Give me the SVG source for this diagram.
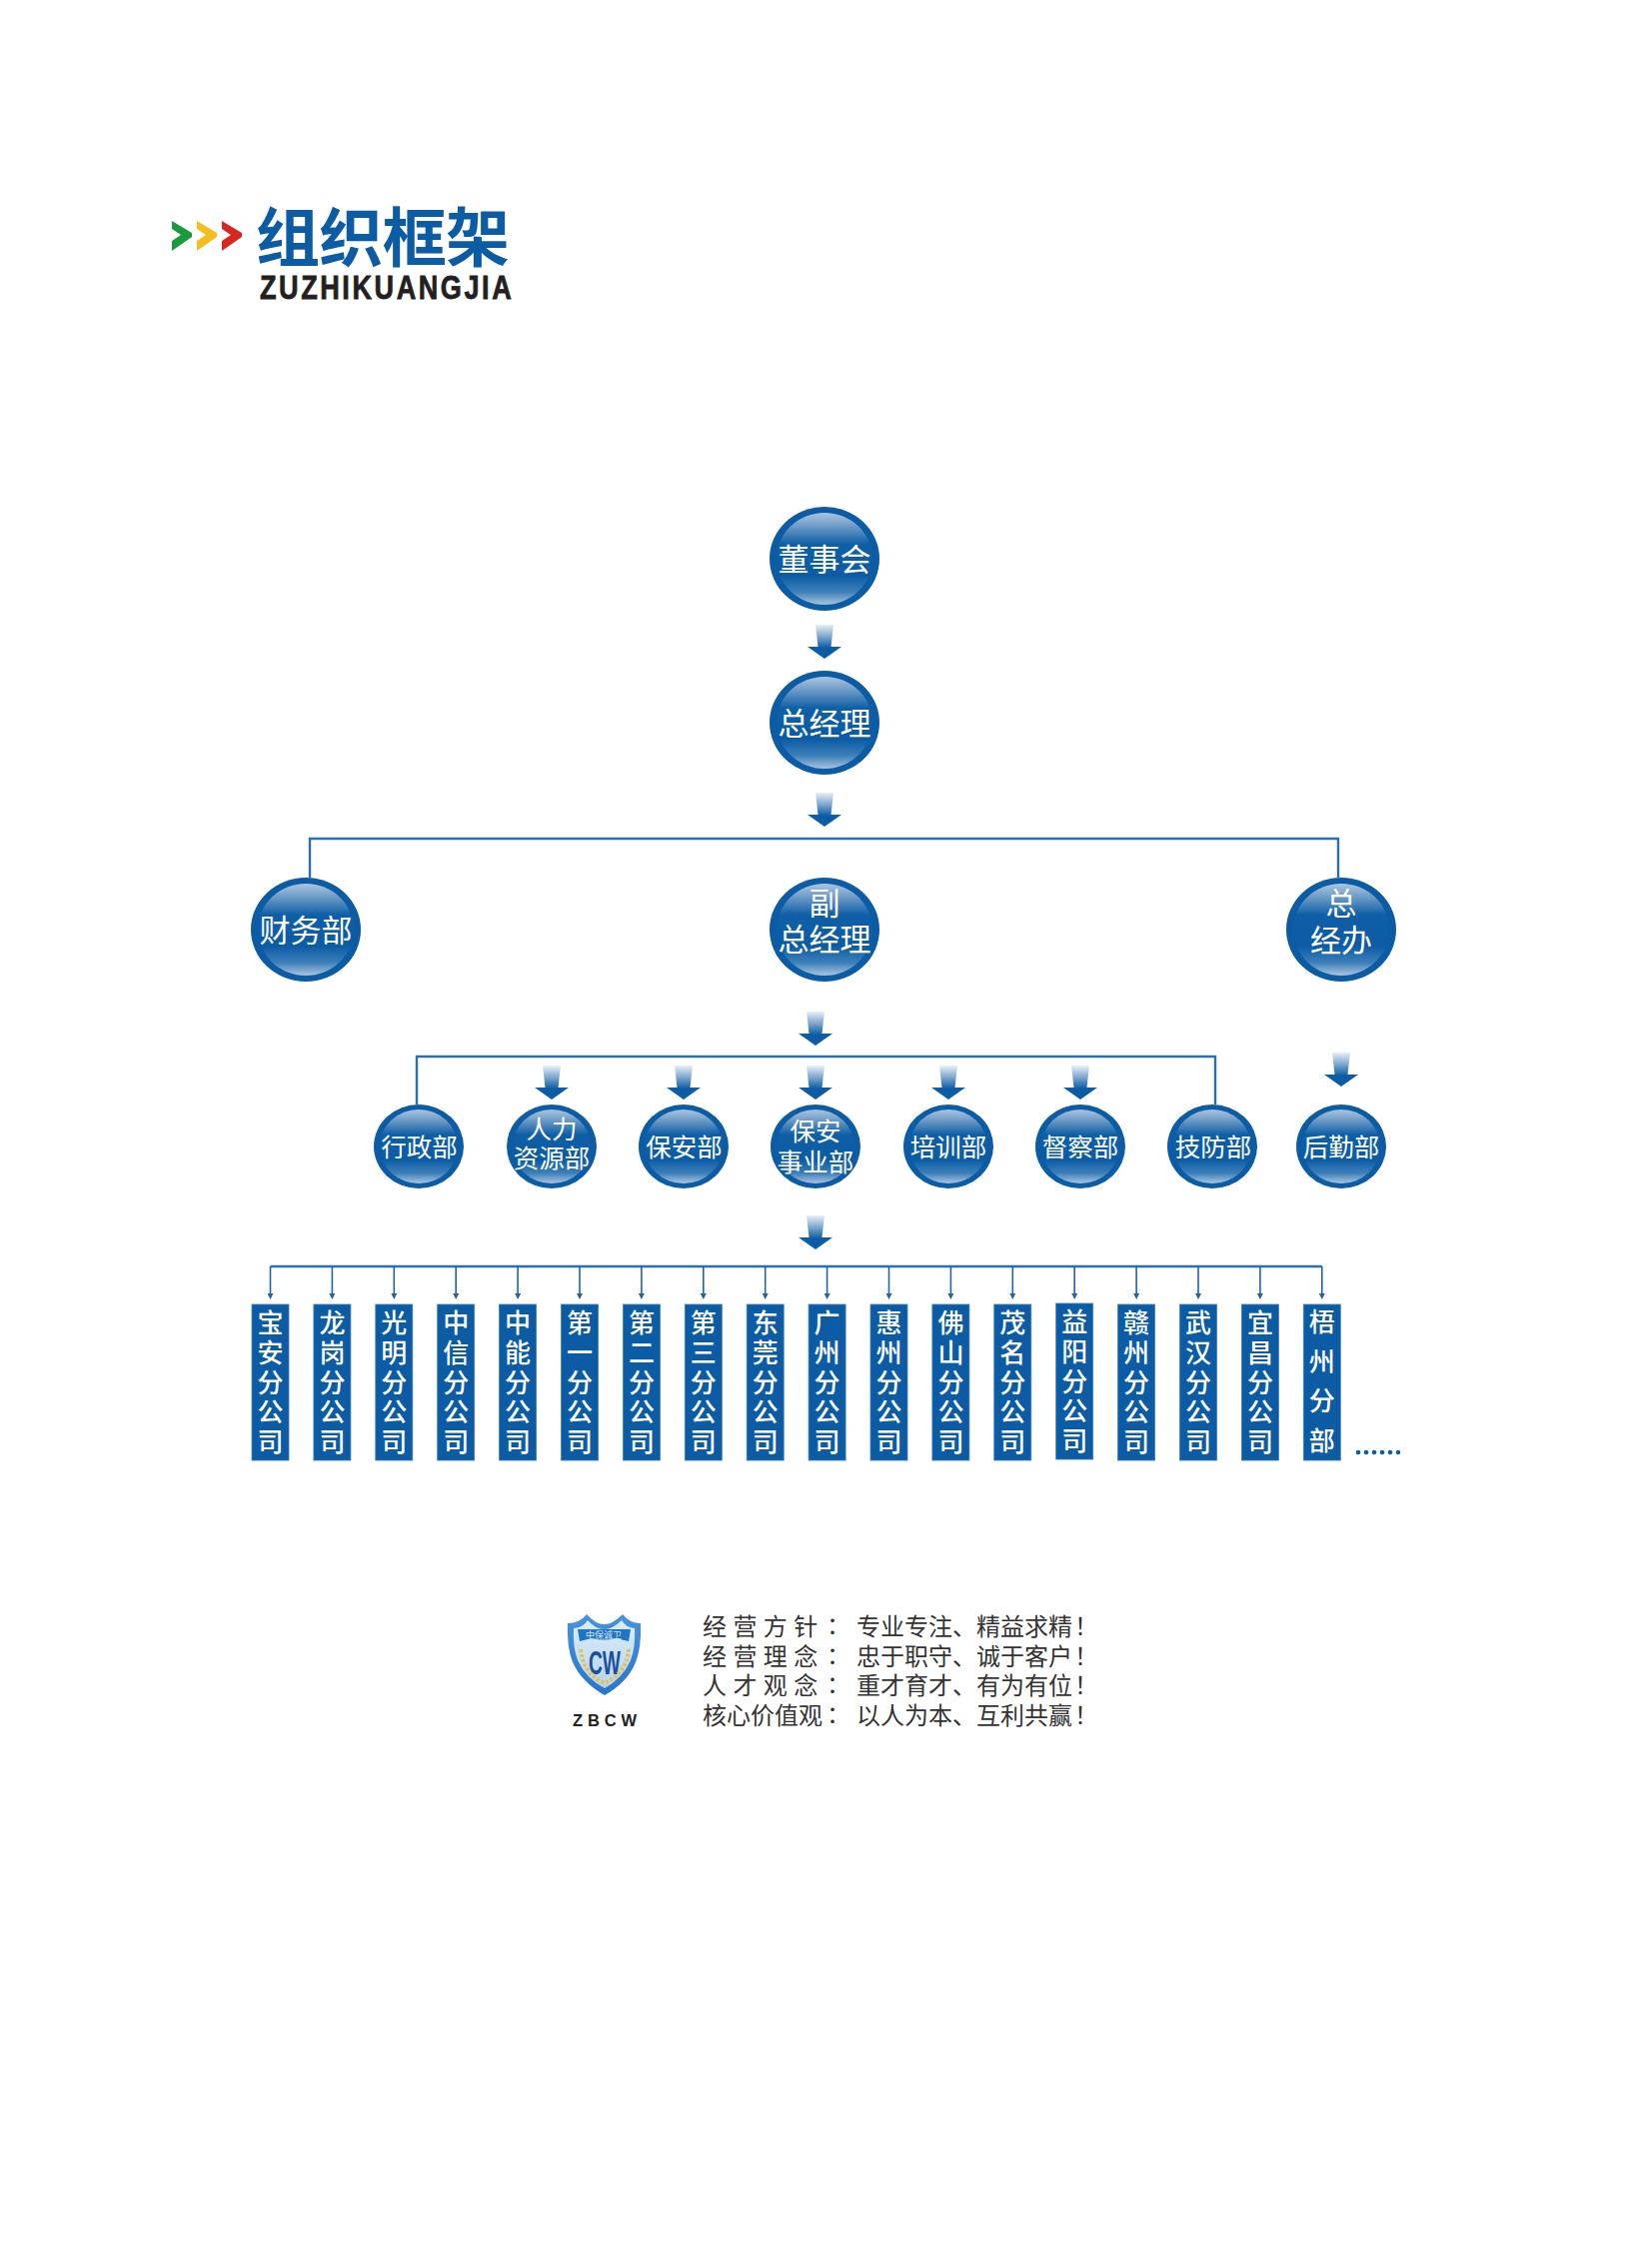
<svg xmlns="http://www.w3.org/2000/svg" width="1653" height="2244" viewBox="0 0 1653 2244">
<style>
.ring{fill:#0b5ca5}
.gloss{fill:url(#gloss)}
.cn{font-family:"Noto Sans CJK SC","Noto Sans",sans-serif;text-anchor:middle;fill:#fff}
.b{font-size:31px}
.s{font-size:25.500px}
.bar{fill:#0b5ca5;stroke:#3f7fb8;stroke-width:.8}
.v{font-size:26px;font-weight:500}
.line{fill:none;stroke:#2a6fae;stroke-width:2.4}
.thin{fill:none;stroke:#1f659f;stroke-width:1.6;marker-end:url(#tip)}
.motto{font-family:"Noto Sans CJK SC","Noto Sans",sans-serif;font-size:24px;fill:#333}
.c{font-family:"Noto Sans CJK JP",sans-serif}
</style>
<defs>
<linearGradient id="gloss" x1="0" y1="0" x2="0" y2="1">
<stop offset="0" stop-color="#a9c5df"/>
<stop offset=".12" stop-color="#7aa3cb"/>
<stop offset=".34" stop-color="#0f5fa7"/>
<stop offset=".68" stop-color="#0b5ca5"/>
<stop offset=".86" stop-color="#3d7fb9"/>
<stop offset="1" stop-color="#a9c5df"/>
</linearGradient>
<linearGradient id="fade" x1="0" y1="0" x2="0" y2="1">
<stop offset="0" stop-color="#e8f0f7"/>
<stop offset=".35" stop-color="#7ea6cd"/>
<stop offset=".68" stop-color="#0b5ca5"/>
<stop offset="1" stop-color="#0b5ca5"/>
</linearGradient>
<linearGradient id="shieldG" x1="0" y1="0" x2="0" y2="1">
<stop offset="0" stop-color="#4a94dc"/>
<stop offset="1" stop-color="#2a74cc"/>
</linearGradient>
<linearGradient id="panelG" x1="0" y1="0" x2="0" y2="1">
<stop offset="0" stop-color="#dbecf7"/>
<stop offset="1" stop-color="#b4d6f0"/>
</linearGradient>
<polygon id="arrow" points="-9,0 9,0 6.5,22 17,22 0,34 -17,22 -6.5,22" fill="url(#fade)"/>
<marker id="tip" markerUnits="userSpaceOnUse" markerWidth="6" markerHeight="6" refX="3" refY="3" orient="auto" viewBox="0 0 6 6">
<polygon points="0,0 6,3 0,6" fill="#1f659f"/>
</marker>
</defs>
<rect width="1653" height="2244" fill="#fff"/>

<g id="title">
<polygon points="172,221 192,233 192,237 172,251 172,241 181,235 172,229" fill="#1a9a3c"/>
<polygon points="197,221 217,233 217,237 197,251 197,241 206,235 197,229" fill="#f5bd1e"/>
<polygon points="222,221 242,233 242,237 222,251 222,241 231,235 222,229" fill="#d8281e"/>
<text x="256" y="261" font-family="'Noto Sans CJK SC',sans-serif" font-size="64" font-weight="700" fill="#0b5ca5" textLength="254">组织框架</text>
<text transform="translate(260 299) scale(.82 1)" x="0" y="0" font-family="'Liberation Sans',sans-serif" font-size="33" font-weight="700" fill="#231f20" stroke="#231f20" stroke-width=".8" textLength="307">ZUZHIKUANGJIA</text>
</g>

<g id="connectors">
<path class="line" d="M310 878V839H1339V878"/>
<path class="line" d="M417 1105V1057H1216V1105"/>
<path class="line" d="M270.500 1267H1322.800"/>
<path class="thin" d="M270.500 1267V1297"/>
<path class="thin" d="M332.400 1267V1297"/>
<path class="thin" d="M394.300 1267V1297"/>
<path class="thin" d="M456.200 1267V1297"/>
<path class="thin" d="M518.100 1267V1297"/>
<path class="thin" d="M580 1267V1297"/>
<path class="thin" d="M641.900 1267V1297"/>
<path class="thin" d="M703.800 1267V1297"/>
<path class="thin" d="M765.700 1267V1297"/>
<path class="thin" d="M827.600 1267V1297"/>
<path class="thin" d="M889.500 1267V1297"/>
<path class="thin" d="M951.400 1267V1297"/>
<path class="thin" d="M1013.300 1267V1297"/>
<path class="thin" d="M1075.200 1267V1297"/>
<path class="thin" d="M1137.100 1267V1297"/>
<path class="thin" d="M1199 1267V1297"/>
<path class="thin" d="M1260.900 1267V1297"/>
<path class="thin" d="M1322.800 1267V1297"/>
<use href="#arrow" x="825" y="625"/>
<use href="#arrow" x="825" y="793"/>
<use href="#arrow" x="816" y="1012"/>
<use href="#arrow" x="552" y="1066"/>
<use href="#arrow" x="684" y="1066"/>
<use href="#arrow" x="816" y="1066"/>
<use href="#arrow" x="949" y="1066"/>
<use href="#arrow" x="1081" y="1066"/>
<use href="#arrow" x="1342" y="1053"/>
<use href="#arrow" x="816" y="1216"/>
</g>

<g id="n-board"><ellipse class="ring" cx="825" cy="559" rx="55" ry="52"/><ellipse class="gloss" cx="825" cy="559" rx="48" ry="46"/><text class="cn b" x="825" y="571">董事会</text></g>
<g id="n-gm"><ellipse class="ring" cx="825" cy="723" rx="55" ry="52"/><ellipse class="gloss" cx="825" cy="723" rx="48" ry="46"/><text class="cn b" x="825" y="735">总经理</text></g>
<g id="n-finance"><ellipse class="ring" cx="306" cy="930" rx="55" ry="52"/><ellipse class="gloss" cx="306" cy="930" rx="48" ry="46"/><text class="cn b" x="306" y="942">财务部</text></g>
<g id="n-vgm"><ellipse class="ring" cx="825" cy="930" rx="55" ry="52"/><ellipse class="gloss" cx="825" cy="930" rx="48" ry="46"/><text class="cn b"><tspan x="825" y="915">副</tspan><tspan x="825" y="951">总经理</tspan></text></g>
<g id="n-office"><ellipse class="ring" cx="1342" cy="930" rx="55" ry="52"/><ellipse class="gloss" cx="1342" cy="930" rx="48" ry="46"/><text class="cn b"><tspan x="1342" y="915">总</tspan><tspan x="1342" y="952">经办</tspan></text></g>

<g id="n-admin"><ellipse class="ring" cx="419" cy="1147" rx="45" ry="42"/><ellipse class="gloss" cx="419" cy="1147" rx="39" ry="37"/><text class="cn s" x="419.500" y="1157">行政部</text></g>
<g id="n-hr"><ellipse class="ring" cx="552" cy="1147" rx="45" ry="42"/><ellipse class="gloss" cx="552" cy="1147" rx="39" ry="37"/><text class="cn s"><tspan x="552" y="1139">人力</tspan><tspan x="552" y="1168">资源部</tspan></text></g>
<g id="n-security"><ellipse class="ring" cx="684" cy="1147" rx="45" ry="42"/><ellipse class="gloss" cx="684" cy="1147" rx="39" ry="37"/><text class="cn s" x="684.500" y="1157">保安部</text></g>
<g id="n-secbiz"><ellipse class="ring" cx="816" cy="1147" rx="45" ry="42"/><ellipse class="gloss" cx="816" cy="1147" rx="39" ry="37"/><text class="cn s"><tspan x="816" y="1141">保安</tspan><tspan x="816" y="1172">事业部</tspan></text></g>
<g id="n-training"><ellipse class="ring" cx="949" cy="1147" rx="45" ry="42"/><ellipse class="gloss" cx="949" cy="1147" rx="39" ry="37"/><text class="cn s" x="949" y="1157">培训部</text></g>
<g id="n-inspect"><ellipse class="ring" cx="1081" cy="1147" rx="45" ry="42"/><ellipse class="gloss" cx="1081" cy="1147" rx="39" ry="37"/><text class="cn s" x="1081" y="1157">督察部</text></g>
<g id="n-tech"><ellipse class="ring" cx="1213" cy="1147" rx="45" ry="42"/><ellipse class="gloss" cx="1213" cy="1147" rx="39" ry="37"/><text class="cn s" x="1214" y="1157">技防部</text></g>
<g id="n-logistics"><ellipse class="ring" cx="1342" cy="1147" rx="45" ry="42"/><ellipse class="gloss" cx="1342" cy="1147" rx="39" ry="37"/><text class="cn s" x="1342" y="1157">后勤部</text></g>

<g id="b-baoan"><rect class="bar" x="252" y="1305" width="37" height="156"/><text class="cn v"><tspan x="270.500" y="1333">宝</tspan><tspan x="270.500" dy="29.800">安</tspan><tspan x="270.500" dy="29.800">分</tspan><tspan x="270.500" dy="29.800">公</tspan><tspan x="270.500" dy="29.800">司</tspan></text></g>
<g id="b-longgang"><rect class="bar" x="313.900" y="1305" width="37" height="156"/><text class="cn v"><tspan x="332.400" y="1333">龙</tspan><tspan x="332.400" dy="29.800">岗</tspan><tspan x="332.400" dy="29.800">分</tspan><tspan x="332.400" dy="29.800">公</tspan><tspan x="332.400" dy="29.800">司</tspan></text></g>
<g id="b-guangming"><rect class="bar" x="375.800" y="1305" width="37" height="156"/><text class="cn v"><tspan x="394.300" y="1333">光</tspan><tspan x="394.300" dy="29.800">明</tspan><tspan x="394.300" dy="29.800">分</tspan><tspan x="394.300" dy="29.800">公</tspan><tspan x="394.300" dy="29.800">司</tspan></text></g>
<g id="b-zhongxin"><rect class="bar" x="437.700" y="1305" width="37" height="156"/><text class="cn v"><tspan x="456.200" y="1333">中</tspan><tspan x="456.200" dy="29.800">信</tspan><tspan x="456.200" dy="29.800">分</tspan><tspan x="456.200" dy="29.800">公</tspan><tspan x="456.200" dy="29.800">司</tspan></text></g>
<g id="b-zhongneng"><rect class="bar" x="499.600" y="1305" width="37" height="156"/><text class="cn v"><tspan x="518.100" y="1333">中</tspan><tspan x="518.100" dy="29.800">能</tspan><tspan x="518.100" dy="29.800">分</tspan><tspan x="518.100" dy="29.800">公</tspan><tspan x="518.100" dy="29.800">司</tspan></text></g>
<g id="b-first"><rect class="bar" x="561.500" y="1305" width="37" height="156"/><text class="cn v"><tspan x="580" y="1333">第</tspan><tspan x="580" dy="29.800">一</tspan><tspan x="580" dy="29.800">分</tspan><tspan x="580" dy="29.800">公</tspan><tspan x="580" dy="29.800">司</tspan></text></g>
<g id="b-second"><rect class="bar" x="623.400" y="1305" width="37" height="156"/><text class="cn v"><tspan x="641.900" y="1333">第</tspan><tspan x="641.900" dy="29.800">二</tspan><tspan x="641.900" dy="29.800">分</tspan><tspan x="641.900" dy="29.800">公</tspan><tspan x="641.900" dy="29.800">司</tspan></text></g>
<g id="b-third"><rect class="bar" x="685.300" y="1305" width="37" height="156"/><text class="cn v"><tspan x="703.800" y="1333">第</tspan><tspan x="703.800" dy="29.800">三</tspan><tspan x="703.800" dy="29.800">分</tspan><tspan x="703.800" dy="29.800">公</tspan><tspan x="703.800" dy="29.800">司</tspan></text></g>
<g id="b-dongguan"><rect class="bar" x="747.200" y="1305" width="37" height="156"/><text class="cn v"><tspan x="765.700" y="1333">东</tspan><tspan x="765.700" dy="29.800">莞</tspan><tspan x="765.700" dy="29.800">分</tspan><tspan x="765.700" dy="29.800">公</tspan><tspan x="765.700" dy="29.800">司</tspan></text></g>
<g id="b-guangzhou"><rect class="bar" x="809.100" y="1305" width="37" height="156"/><text class="cn v"><tspan x="827.600" y="1333">广</tspan><tspan x="827.600" dy="29.800">州</tspan><tspan x="827.600" dy="29.800">分</tspan><tspan x="827.600" dy="29.800">公</tspan><tspan x="827.600" dy="29.800">司</tspan></text></g>
<g id="b-huizhou"><rect class="bar" x="871" y="1305" width="37" height="156"/><text class="cn v"><tspan x="889.500" y="1333">惠</tspan><tspan x="889.500" dy="29.800">州</tspan><tspan x="889.500" dy="29.800">分</tspan><tspan x="889.500" dy="29.800">公</tspan><tspan x="889.500" dy="29.800">司</tspan></text></g>
<g id="b-foshan"><rect class="bar" x="932.900" y="1305" width="37" height="156"/><text class="cn v"><tspan x="951.400" y="1333">佛</tspan><tspan x="951.400" dy="29.800">山</tspan><tspan x="951.400" dy="29.800">分</tspan><tspan x="951.400" dy="29.800">公</tspan><tspan x="951.400" dy="29.800">司</tspan></text></g>
<g id="b-maoming"><rect class="bar" x="994.800" y="1305" width="37" height="156"/><text class="cn v"><tspan x="1013.300" y="1333">茂</tspan><tspan x="1013.300" dy="29.800">名</tspan><tspan x="1013.300" dy="29.800">分</tspan><tspan x="1013.300" dy="29.800">公</tspan><tspan x="1013.300" dy="29.800">司</tspan></text></g>
<g id="b-yiyang"><rect class="bar" x="1056.700" y="1304" width="37" height="156"/><text class="cn v"><tspan x="1075.200" y="1332">益</tspan><tspan x="1075.200" dy="29.800">阳</tspan><tspan x="1075.200" dy="29.800">分</tspan><tspan x="1075.200" dy="29.800">公</tspan><tspan x="1075.200" dy="29.800">司</tspan></text></g>
<g id="b-ganzhou"><rect class="bar" x="1118.600" y="1305" width="37" height="156"/><text class="cn v"><tspan x="1137.100" y="1333">赣</tspan><tspan x="1137.100" dy="29.800">州</tspan><tspan x="1137.100" dy="29.800">分</tspan><tspan x="1137.100" dy="29.800">公</tspan><tspan x="1137.100" dy="29.800">司</tspan></text></g>
<g id="b-wuhan"><rect class="bar" x="1180.500" y="1305" width="37" height="156"/><text class="cn v"><tspan x="1199" y="1333">武</tspan><tspan x="1199" dy="29.800">汉</tspan><tspan x="1199" dy="29.800">分</tspan><tspan x="1199" dy="29.800">公</tspan><tspan x="1199" dy="29.800">司</tspan></text></g>
<g id="b-yichang"><rect class="bar" x="1242.400" y="1305" width="37" height="156"/><text class="cn v"><tspan x="1260.900" y="1333">宜</tspan><tspan x="1260.900" dy="29.800">昌</tspan><tspan x="1260.900" dy="29.800">分</tspan><tspan x="1260.900" dy="29.800">公</tspan><tspan x="1260.900" dy="29.800">司</tspan></text></g>
<g id="b-wuzhou"><rect class="bar" x="1304.300" y="1305" width="37" height="156"/><text class="cn v"><tspan x="1322.800" y="1332">梧</tspan><tspan x="1322.800" dy="39.700">州</tspan><tspan x="1322.800" dy="39.700">分</tspan><tspan x="1322.800" dy="39.700">部</tspan></text></g>

<g id="more" fill="#0b5ca5">
<circle cx="1359" cy="1453" r="2.300"/><circle cx="1367" cy="1453" r="2.300"/><circle cx="1375" cy="1453" r="2.300"/><circle cx="1383" cy="1453" r="2.300"/><circle cx="1391" cy="1453" r="2.300"/><circle cx="1399" cy="1453" r="2.300"/>
</g>

<g id="logo">
<path transform="translate(-2 -2)" d="M570 1626Q582 1626 589 1617Q598 1627 606.500 1627Q615 1627 625 1617Q632 1626 643 1626Q644 1650 638 1665Q630 1685 607 1698Q584 1685 575 1665Q569 1650 570 1626Z" fill="url(#shieldG)"/>
<path transform="translate(-2 -2)" d="M576 1631Q586 1630 590 1623Q598 1632 606.500 1632Q615 1632 624 1623Q628 1630 637 1631Q638 1650 633 1663Q625 1681 607 1691Q588 1681 580 1663Q575 1650 576 1631Z" fill="url(#panelG)"/>
<path d="M578 1630L631 1630L629 1642L616 1639Q605 1642 592 1639L580 1642Z" fill="#1f74c4"/>
<text x="604" y="1638.500" font-family="'Noto Sans CJK SC',sans-serif" font-size="9" fill="#cfe5f7" text-anchor="middle">中保诚卫</text>
<text x="589" y="1675" font-family="'Liberation Sans',sans-serif" font-size="34" font-weight="700" fill="#1b4f9e" textLength="32" lengthAdjust="spacingAndGlyphs">CW</text>
<path d="M581 1650Q583 1674 605 1684Q627 1674 629 1650" fill="none" stroke="#e6bf55" stroke-width="4" stroke-dasharray="3 2"/>
<text x="573" y="1727" font-family="'Liberation Sans',sans-serif" font-size="16.500" font-weight="700" fill="#222" textLength="64">ZBCW</text>
</g>

<g id="mottos">
<text class="motto" x="703 733.400 763.800 794.200" y="1636">经营方针<tspan class="c" x="821">：</tspan><tspan x="857">专业专注、精益求精</tspan><tspan class="c" x="1069">！</tspan></text>
<text class="motto" x="703 733.400 763.800 794.200" y="1666">经营理念<tspan class="c" x="821">：</tspan><tspan x="857">忠于职守、诚于客户</tspan><tspan class="c" x="1069">！</tspan></text>
<text class="motto" x="703 733.400 763.800 794.200" y="1695">人才观念<tspan class="c" x="821">：</tspan><tspan x="857">重才育才、有为有位</tspan><tspan class="c" x="1069">！</tspan></text>
<text class="motto" x="703" y="1725">核心价值观<tspan class="c" x="821">：</tspan><tspan x="857">以人为本、互利共赢</tspan><tspan class="c" x="1069">！</tspan></text>
</g>
</svg>
